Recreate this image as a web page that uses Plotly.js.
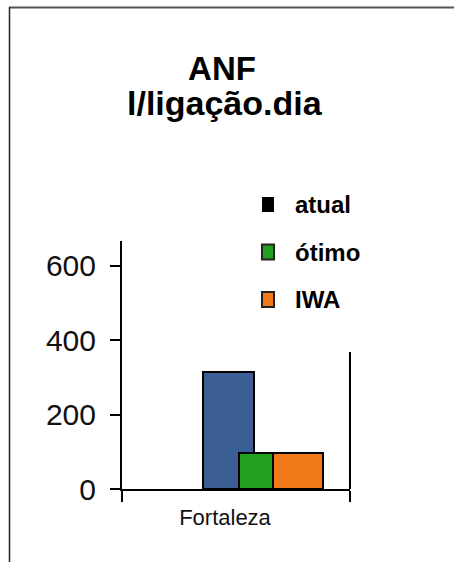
<!DOCTYPE html>
<html>
<head>
<meta charset="utf-8">
<script src="https://cdn.plot.ly/plotly-3.0.1.min.js"></script>
<style>html,body{margin:0;padding:0;background:#fff;}#chart{width:454px;height:562px;}</style>
</head>
<body>
<div id="chart"></div>
<script>
// ---- data ----
const categories = ['Fortaleza'];
const seriesNames = ['atual', 'ótimo', 'IWA'];
const atual = [315];
const otimo = [97];
const iwa = [97];
const yTickVals = [0, 200, 400, 600];
const titleLine1 = 'ANF';
const titleLine2 = 'l/ligação.dia';

// ---- styles ----
const barColors = ['#3b5f95', '#22a01f', '#f07a19'];
const legendColors = ['#000000', '#22a01f', '#f07a19'];
const font = '"Liberation Sans", Arial, sans-serif';

const W = 454, H = 562;
const L = 122, R = 350, T = 241, B = 489;
const px = x => (x - L) / (R - L);
const py = y => (B - y) / (B - T);

const seriesValues = [atual, otimo, iwa];
const offsets = [-0.1447, 0.0132, 0.1623];
const widths = [0.2237, 0.2237, 0.2193];

const traces = seriesNames.map((name, i) => ({
  type: 'bar',
  name: name,
  x: categories,
  y: seriesValues[i],
  offset: offsets[i],
  width: widths[i],
  marker: {color: barColors[i], opacity: 1, line: {color: '#000', width: 2}},
  showlegend: false,
  hoverinfo: 'skip'
}));

const shapes = [
  // frame top & left
  {type: 'line', xref: 'paper', yref: 'paper', x0: px(9), x1: px(455), y0: py(7.5), y1: py(7.5), line: {color: '#555', width: 2}},
  {type: 'line', xref: 'paper', yref: 'paper', x0: px(9.5), x1: px(9.5), y0: py(7), y1: py(563), line: {color: '#222', width: 1.5}},
  // right vertical line
  {type: 'line', xref: 'x domain', yref: 'y domain', x0: 1, x1: 1, y0: 0, y1: py(352), line: {color: '#000', width: 2}}
];

const legendRows = [204.5, 252, 299.5];
const annotations = [
  {xref: 'paper', yref: 'paper', x: px(224.5), y: py(103), xanchor: 'center', yanchor: 'middle',
   text: titleLine2, showarrow: false, font: {family: font, size: 34, color: '#000', weight: 'bold'}}
];
seriesNames.forEach((name, i) => {
  const cy = legendRows[i];
  shapes.push({type: 'rect', xref: 'paper', yref: 'paper',
    x0: px(262), x1: px(274), y0: py(cy + 7.5), y1: py(cy - 7.5),
    fillcolor: legendColors[i], line: {color: i === 0 ? '#000' : '#222', width: i === 0 ? 0 : 2}});
  annotations.push({xref: 'paper', yref: 'paper', x: px(293), y: py(cy), xanchor: 'left', yanchor: 'middle',
    text: name, showarrow: false, font: {family: font, size: 24, color: '#000', weight: 'bold'}});
});

const layout = {
  width: W, height: H,
  margin: {l: L, r: W - R, t: T, b: H - B, pad: 0},
  paper_bgcolor: '#fff', plot_bgcolor: 'rgba(0,0,0,0)',
  barmode: 'overlay',
  showlegend: false,
  title: {text: titleLine1, x: 222 / W, xanchor: 'center', y: 1 - 68 / H, yanchor: 'middle',
          font: {family: font, size: 33, color: '#000', weight: 'bold'}},
  xaxis: {type: 'category', range: [-0.5, 0.5], showline: true, linecolor: '#000', linewidth: 2,
          ticks: 'outside', tickson: 'boundaries', ticklen: 11, tickwidth: 2, tickcolor: '#000',
          ticklabelshift: -11, ticklabelstandoff: 8, showgrid: false, zeroline: false,
          tickfont: {family: font, size: 22, color: '#111'}, fixedrange: true},
  yaxis: {range: [0, 667], tickvals: yTickVals, showline: true, linecolor: '#000', linewidth: 2,
          ticks: 'outside', ticklen: 10, tickwidth: 2, tickcolor: '#000', showgrid: false, zeroline: false,
          ticklabelstandoff: 8,
          tickfont: {family: font, size: 30, color: '#111'}, fixedrange: true},
  shapes: shapes,
  annotations: annotations
};

Plotly.newPlot('chart', traces, layout, {displayModeBar: false, staticPlot: true});
</script>
</body>
</html>
